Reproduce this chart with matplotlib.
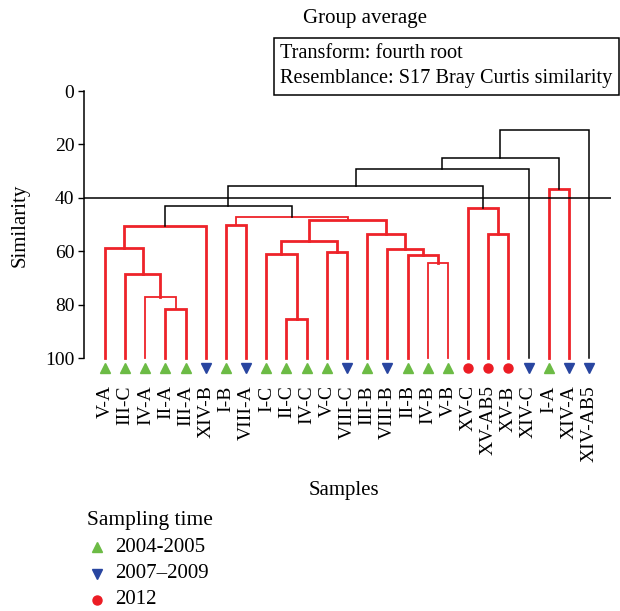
import matplotlib
matplotlib.use("Agg")
import matplotlib.pyplot as plt
from matplotlib.lines import Line2D
from matplotlib.patches import Rectangle

plt.rcParams['font.family'] = ['Liberation Serif', 'DejaVu Serif']

# samples in dendrogram order and their sampling period
samples = ['V-A', 'III-C', 'IV-A', 'II-A', 'III-A', 'XIV-B', 'I-B', 'VIII-A',
           'I-C', 'II-C', 'IV-C', 'V-C', 'VIII-C', 'III-B', 'VIII-B', 'II-B',
           'IV-B', 'V-B', 'XV-C', 'XV-AB5', 'XV-B', 'XIV-C', 'I-A', 'XIV-A',
           'XIV-AB5']
periods = ['2004-2005'] * 5 + ['2007–2009', '2004-2005', '2007–2009'] + \
          ['2004-2005'] * 4 + ['2007–2009', '2004-2005', '2007–2009'] + \
          ['2004-2005'] * 3 + ['2012'] * 3 + \
          ['2007–2009', '2004-2005', '2007–2009', '2007–2009']

# linkage: (child a, child b, similarity); ids >= 25 are earlier merges
merges = [
    (3, 4, 81.8),      # 25
    (2, 25, 77.0),     # 26
    (1, 26, 68.5),     # 27
    (0, 27, 58.7),     # 28
    (28, 5, 50.6),     # 29
    (6, 7, 50.3),      # 30
    (9, 10, 85.4),     # 31
    (8, 31, 60.9),     # 32
    (11, 12, 60.3),    # 33
    (32, 33, 56.3),    # 34
    (16, 17, 64.5),    # 35
    (15, 35, 61.3),    # 36
    (14, 36, 59.0),    # 37
    (13, 37, 53.4),    # 38
    (34, 38, 48.3),    # 39
    (30, 39, 47.1),    # 40
    (29, 40, 43.0),    # 41
    (19, 20, 53.6),    # 42
    (18, 42, 43.8),    # 43
    (41, 43, 35.7),    # 44
    (44, 21, 29.2),    # 45
    (22, 23, 36.6),    # 46
    (45, 46, 25.0),    # 47
    (47, 24, 14.6),    # 48
]
# merges that are significant splits (drawn black), the rest are red
black_merges = [41, 44, 45, 47, 48]
thin_merges = [26, 35, 40]
cut_level = 40

period_style = {
    '2004-2005': dict(marker='^', color='#6cbb45'),
    '2007–2009': dict(marker='v', color='#2845a0'),
    '2012': dict(marker='o', color='#ec1c24'),
}

fig = plt.figure(figsize=(6.2, 6.11), dpi=100)
W, H = 620, 611
ax = fig.add_axes([84 / W, 1 - 371.4 / H, 527 / W, 280.4 / H])

n = len(samples)
xpos = {i: float(i) for i in range(n)}
ypos = {i: 100.0 for i in range(n)}

for k, (a, b, h) in enumerate(merges):
    node = n + k
    col = 'black' if node in black_merges else '#ee2329'
    lw = 1.1 if node in black_merges else (1.3 if node in thin_merges else 2.0)
    ax.plot([xpos[a], xpos[a], xpos[b], xpos[b]], [ypos[a], h, h, ypos[b]],
            color=col, lw=lw, solid_joinstyle='miter', zorder=2)
    xpos[node] = (xpos[a] + xpos[b]) / 2
    ypos[node] = h

ax.axhline(cut_level, color='black', lw=1.1, zorder=3)

for i, p in enumerate(periods):
    st = period_style[p]
    ax.plot(i, 103.6, linestyle='none', marker=st['marker'], color=st['color'],
            markersize=7.5 if st['marker'] != 'o' else 6.5, clip_on=False, zorder=4)

ax.set_xlim(-1.04, 25.09)
ax.set_ylim(105, 0)
ax.set_yticks([0, 20, 40, 60, 80, 100])
ax.set_xticks(range(n), samples, rotation=90)
ax.tick_params(axis='x', length=0, pad=10, labelsize=14)
ax.tick_params(axis='y', direction='out', length=4, width=1, labelsize=14, pad=3)
for s in ['top', 'right', 'bottom']:
    ax.spines[s].set_visible(False)
ax.spines['left'].set_bounds(0, 100)
ax.spines['left'].set_linewidth(1.1)

fig.text(20 / W, 1 - 225 / H, 'Similarity', rotation=90, ha='center', va='center', fontsize=15)
fig.text(344 / W, 1 - 490 / H, 'Samples', ha='center', va='center', fontsize=15)
fig.text(365 / W, 1 - 19 / H, 'Group average', ha='center', va='center', fontsize=15)

fig.add_artist(Rectangle((274 / W, 1 - 95 / H), 345 / W, 57 / H, transform=fig.transFigure,
                         fill=False, edgecolor='black', lw=1.1))
fig.text(280 / W, 1 - 53 / H, 'Transform: fourth root', ha='left', va='center', fontsize=14.6)
fig.text(280 / W, 1 - 78 / H, 'Resemblance: S17 Bray Curtis similarity', ha='left', va='center', fontsize=14.6)

# legend
fig.text(87 / W, 1 - 520 / H, 'Sampling time', ha='left', va='center', fontsize=15.5)
for j, (p, st) in enumerate(period_style.items()):
    yy = 1 - (547 + 26.5 * j) / H
    fig.add_artist(Line2D([97 / W], [yy], transform=fig.transFigure, linestyle='none',
                          marker=st['marker'], color=st['color'],
                          markersize=7.5 if st['marker'] != 'o' else 6.5))
    fig.text(115 / W, yy, p, ha='left', va='center', fontsize=15)

fig.savefig('out.png', dpi=100)
